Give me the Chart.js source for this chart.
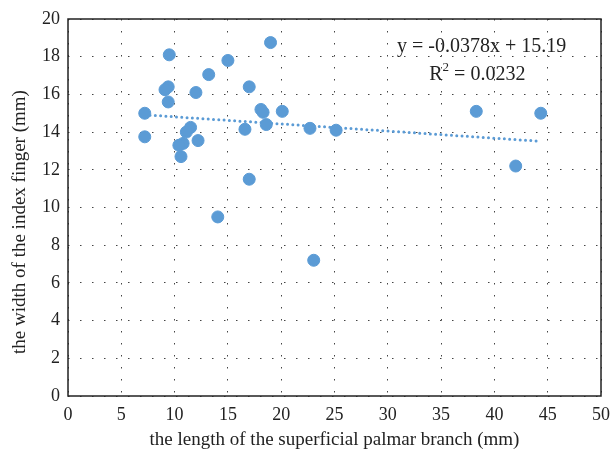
<!DOCTYPE html>
<html>
<head>
<meta charset="utf-8">
<script src="https://cdn.jsdelivr.net/npm/chart.js@4.4.1/dist/chart.umd.min.js"></script>
<style>
  html, body { margin: 0; padding: 0; background: #fff; }
  #wrap { width: 611px; height: 461px; }
</style>
</head>
<body>
<div id="wrap"><canvas id="chart"></canvas></div>
<script>
// data
const lengthMm = [19.0, 9.5, 15.0, 13.2, 9.4, 9.1, 17.0, 12.0, 9.4, 7.2,
                  18.1, 18.3, 20.1, 18.6, 16.6, 22.7, 11.5, 11.1, 7.2, 12.2,
                  10.8, 10.4, 10.6, 17.0, 14.05, 23.05, 25.15, 38.3, 44.35, 42.0];
const widthMm  = [18.75, 18.1, 17.8, 17.05, 16.4, 16.25, 16.4, 16.1, 15.6, 15.0,
                  15.2, 15.05, 15.1, 14.4, 14.15, 14.2, 14.25, 14.0, 13.75, 13.55,
                  13.4, 13.3, 12.7, 11.5, 9.5, 7.2, 14.1, 15.1, 15.0, 12.2];
const trendSlope = -0.0378;
const trendIntercept = 15.19;
const equationText = 'y = -0.0378x + 15.19';
const r2Text = '0.0232';
const xTitle = 'the length of the superficial palmar branch (mm)';
const yTitle = 'the width of the index finger (mm)';

const FONT = '"Liberation Serif", "DejaVu Serif", serif';
const BLUE = '#5B9BD5';
const INK = '#222';

const points = lengthMm.map((x, i) => ({ x: x, y: widthMm[i] }));
const xMin = Math.min(...lengthMm), xMax = Math.max(...lengthMm);
const trend = [xMin, xMax].map(x => ({ x: x, y: trendSlope * x + trendIntercept }));

// caja negra alrededor del area, titulos de ejes y texto de la ecuacion
const boxAndLabel = {
  id: 'boxAndLabel',
  afterDraw(chart) {
    const ctx = chart.ctx, a = chart.chartArea;
    ctx.save();
    ctx.strokeStyle = INK;
    ctx.lineWidth = 1.5;
    ctx.strokeRect(a.left, a.top, a.right - a.left, a.bottom - a.top);

    ctx.fillStyle = INK;
    ctx.textAlign = 'center';
    ctx.textBaseline = 'middle';
    ctx.font = '19px ' + FONT;
    ctx.fillText(xTitle, (a.left + a.right) / 2, 440);
    ctx.save();
    ctx.translate(20, 222);
    ctx.rotate(-Math.PI / 2);
    ctx.fillText(yTitle, 0, 0);
    ctx.restore();

    const xs = chart.scales.x, ys = chart.scales.y;
    ctx.textBaseline = 'alphabetic';
    ctx.font = '20px ' + FONT;
    ctx.fillText(equationText, xs.getPixelForValue(38.8), ys.getPixelForValue(18.25));
    // R^2 line with superscript
    const y2 = ys.getPixelForValue(16.75);
    const left = 'R', right = ' = ' + r2Text;
    const wL = ctx.measureText(left).width, wR = ctx.measureText(right).width;
    ctx.font = '13px ' + FONT;
    const wS = ctx.measureText('2').width;
    const x0 = xs.getPixelForValue(38.4) - (wL + wS + wR) / 2;
    ctx.textAlign = 'left';
    ctx.font = '20px ' + FONT;
    ctx.fillText(left, x0, y2);
    ctx.font = '13px ' + FONT;
    ctx.fillText('2', x0 + wL, y2 - 9);
    ctx.font = '20px ' + FONT;
    ctx.fillText(right, x0 + wL + wS, y2);
    ctx.restore();
  }
};

new Chart(document.getElementById('chart'), {
  type: 'scatter',
  data: {
    datasets: [{
      label: 'data',
      data: points,
      backgroundColor: BLUE,
      borderColor: BLUE,
      pointRadius: 6,
      pointHoverRadius: 6,
      order: 1
    }, {
      label: 'trend',
      type: 'line',
      data: trend,
      borderColor: BLUE,
      borderWidth: 3,
      borderDash: [0, 5.3],
      borderCapStyle: 'round',
      pointRadius: 0,
      fill: false,
      order: 2
    }]
  },
  options: {
    responsive: true,
    maintainAspectRatio: false,
    animation: false,
    layout: { padding: { top: 19, right: 10, left: 0, bottom: 0 } },
    plugins: { legend: { display: false }, tooltip: { enabled: false } },
    scales: {
      x: {
        type: 'linear', min: 0, max: 50,
        ticks: { stepSize: 5, color: INK, font: { family: FONT, size: 18 }, padding: 8, maxRotation: 0 },
        grid: { color: '#444', lineWidth: 1, drawTicks: false },
        border: { display: false, dash: [1.5, 10.5] },
        afterFit(scale) { scale.height = 65; scale.paddingRight = 0; scale.paddingLeft = 0; }
      },
      y: {
        type: 'linear', min: 0, max: 20,
        ticks: { stepSize: 2, color: INK, font: { family: FONT, size: 18 }, padding: 8 },
        grid: { color: '#444', lineWidth: 1, drawTicks: false },
        border: { display: false, dash: [1.5, 10.5] },
        afterFit(scale) { scale.width = 68; scale.paddingTop = 0; scale.paddingBottom = 0; }
      }
    }
  },
  plugins: [boxAndLabel]
});
</script>
</body>
</html>
